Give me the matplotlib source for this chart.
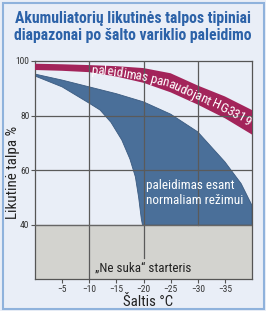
import numpy as np
import matplotlib
matplotlib.use("Agg")
import matplotlib.pyplot as plt
from matplotlib import font_manager
from matplotlib.patches import Rectangle

# fontas: siauriausias, kuris yra
names = {f.name for f in font_manager.fontManager.ttflist}
FAM = "DejaVu Sans"
for n in ["Liberation Sans Narrow", "Roboto Condensed", "Arial Narrow", "Roboto", "Lato"]:
    if n in names:
        FAM = n
        break
FONT = dict(family=[FAM, "DejaVu Sans"])

BG = "#e9eef7"
RED = "#a3245a"
BLUE = "#4a6f99"
GREY = "#d3d3cf"
TITLE = "#2c62a8"

# duomenys (nuskaityta nuo paveikslo)
band_x = [0, -5, -10, -15, -20, -25, -30, -35, -40]
band_top = [99.0, 98.8, 98.5, 98.1, 97.4, 95.5, 91.0, 87.0, 82.0]
band_bot = [96.7, 96.4, 95.9, 94.3, 92.0, 88.5, 84.0, 79.0, 73.0]

upper_x = [0, -5, -10, -15, -20, -25, -30, -35, -38, -40]
upper_y = [95.2, 93.0, 90.5, 88.0, 85.0, 80.5, 74.0, 63.0, 55.0, 47.0]

lower_x = [0, -5, -10, -12, -14, -16, -17.5, -18.5, -19.1, -19.6, -19.8]
lower_y = [94.5, 90.5, 84.5, 82.0, 77.5, 71.0, 64.0, 57.5, 50.0, 42.0, 40.0]

floor_y = 40
x_ticks = [-5, -10, -15, -20, -25, -30, -35]
y_ticks = [40, 60, 80, 100]

W, H = 266, 311
fig = plt.figure(figsize=(W / 100, H / 100), dpi=100, facecolor=BG)
ax = fig.add_axes([35 / W, 1 - 279 / H, 217 / W, 218 / H])
ax.set_facecolor(BG)
ax.set_xlim(0, -40)
ax.set_ylim(20, 100)
r = fig.canvas.get_renderer()


def fit(s, target, size=10, **kw):
    # sriftas, kad tekstas uzimtu target pikseliu plocio
    t = fig.text(0, 0, s, fontsize=size, **FONT, **kw)
    w = t.get_window_extent(r).width
    t.remove()
    return size * target / w


# "Ne suka" zona
ax.axhspan(20, floor_y, color=GREY, zorder=1)

# normalus paleidimas
px = upper_x + [-40, -20] + lower_x[::-1]
py = upper_y + [floor_y, floor_y] + lower_y[::-1]
ax.fill(px, py, color=BLUE, lw=0.6, ec="#3a5a80", zorder=2)

# HG3319 juosta
ax.fill(band_x + band_x[::-1], band_top + band_bot[::-1], color=RED, lw=0, zorder=3)

# tinklelis
gc = "#5a5a5a"
ax.axvline(-10, color=gc, lw=0.9, zorder=4)
ax.axvline(-20, ymin=(27.7 - 20) / 80, color=gc, lw=0.9, zorder=4)
ax.axvline(-30, ymin=(40 - 20) / 80, color=gc, lw=0.9, zorder=4)
for yv in [80, 60]:
    ax.axhline(yv, color=gc, lw=0.9, zorder=4)
ax.axhline(40, color="#666666", lw=1.0, zorder=4)

for s in ax.spines.values():
    s.set_color("#555555")
    s.set_linewidth(0.9)

tsize = 6.8
ax.set_xticks(x_ticks)
ax.set_xticklabels([f"\u2212{abs(v)}" for v in x_ticks], fontsize=tsize, color="#333333", **FONT)
ax.set_yticks(y_ticks)
ax.set_yticklabels([str(v) for v in y_ticks], fontsize=tsize, color="#333333", **FONT)
ax.tick_params(length=3, width=0.8, color="#555555", pad=1)

# tekstai
nsize = fit("paleidimas esant", 88)
ax.text(-20.5, 51.4, "paleidimas esant\nnormaliam režimui", color="white",
        fontsize=nsize, ha="left", va="center", linespacing=1.2, zorder=5, **FONT)
ne = "\u201eNe suka\u201c starteris"
ax.text(-20, 24.2, ne, color="#222222", fontsize=fit(ne, 95),
        ha="center", va="center", zorder=5, **FONT)

t1 = "Akumuliatorių likutinės talpos tipiniai"
fig.text(133 / W, 1 - 27 / H, t1 + "\ndiapazonai po šalto variklio paleidimo",
         ha="center", va="center", color=TITLE, fontsize=fit(t1, 238, fontweight="bold"),
         fontweight="bold", linespacing=1.2, **FONT)
yl = "Likutinė talpa %"
fig.text(13 / W, 1 - 172 / H, yl, rotation=90, ha="center", va="center",
         fontsize=fit(yl, 92), color="#222222", **FONT)
xl = "Šaltis °C"
fig.text(148 / W, 1 - 306 / H, xl, ha="center", va="baseline",
         fontsize=fit(xl, 50), color="#222222", **FONT)

fig.patches.append(Rectangle((2.5 / W, 2.5 / H), 261 / W, 306 / H, transform=fig.transFigure,
                             fill=False, ec="#8fb2dc", lw=1.5))

# lenktas tekstas juostoje
label = "paleidimas panaudojant HG3319"
fig.canvas.draw()
xs = np.linspace(-9, -40, 400)
ys = (np.interp(-xs, -np.array(band_x), band_top) + np.interp(-xs, -np.array(band_x), band_bot)) / 2
pts = ax.transData.transform(np.column_stack([xs, ys]))
arc = np.concatenate([[0], np.cumsum(np.hypot(np.diff(pts[:, 0]), np.diff(pts[:, 1])))])
start = np.interp(91, pts[:, 0], arc)
end = np.interp(251, pts[:, 0], arc)
bsize = fit(label, end - start)


def width(s):
    t = ax.text(0, 0, s, fontsize=bsize, **FONT)
    w = t.get_window_extent(r).width
    t.remove()
    return w


base = width("aa")
widths = [width("a" + c + "a") - base for c in label]
pos = start
for c, w in zip(label, widths):
    mid = pos + w / 2
    cx = np.interp(mid, arc, pts[:, 0])
    cy = np.interp(mid, arc, pts[:, 1])
    x1, y1 = np.interp(mid - 2, arc, pts[:, 0]), np.interp(mid - 2, arc, pts[:, 1])
    x2, y2 = np.interp(mid + 2, arc, pts[:, 0]), np.interp(mid + 2, arc, pts[:, 1])
    ang = np.degrees(np.arctan2(y2 - y1, x2 - x1))
    dx, dy = ax.transData.inverted().transform((cx, cy))
    ax.text(dx, dy, c, color="white", fontsize=bsize, rotation=ang, rotation_mode="anchor",
            ha="center", va="center_baseline", zorder=6, **FONT)
    pos += w

fig.savefig("out.png", dpi=100, facecolor=BG)
